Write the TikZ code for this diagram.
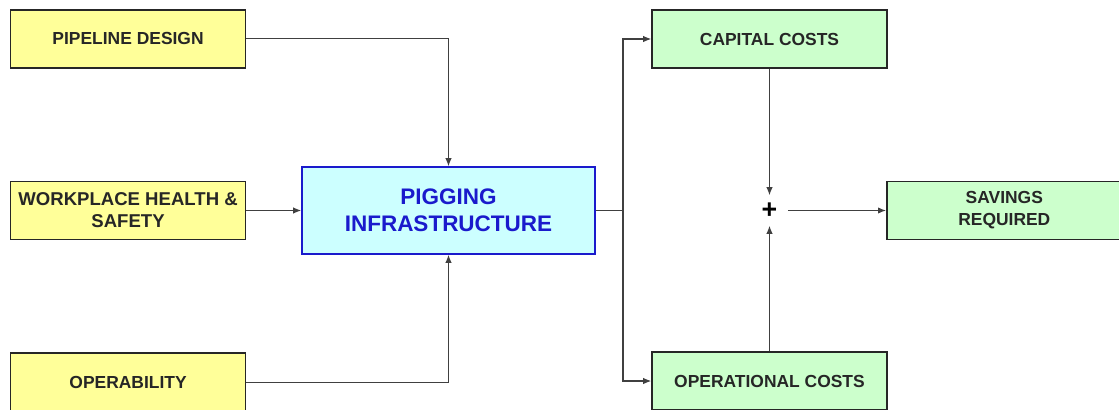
\documentclass[tikz,border=0pt]{standalone}
\usepackage{fontspec}
\setmainfont{Liberation Sans}
\usepackage{xcolor}
\usetikzlibrary{arrows.meta, positioning}
\definecolor{boxyellow}{HTML}{FFFF99}
\definecolor{boxgreen}{HTML}{CCFFCC}
\definecolor{boxcyan}{HTML}{CCFFFF}
\definecolor{pigblue}{HTML}{1A1ACC}
\definecolor{linegray}{HTML}{404040}

\begin{document}
\begin{tikzpicture}[
  x=0.025cm, y=-0.025cm,
  node distance=2.8cm and 1.37cm,
  inbox/.style={rectangle, draw=black!85, line width=1.1pt, fill=boxyellow,
    minimum width=5.875cm, minimum height=1.45cm, inner sep=2pt,
    font=\fontsize{12.4}{15.6}\selectfont\bfseries, text=black!85, align=center},
  outbox/.style={inbox, fill=boxgreen},
  hubbox/.style={rectangle, draw=pigblue, line width=1.1pt, fill=boxcyan,
    minimum width=7.325cm, minimum height=2.175cm,
    font=\fontsize{16}{19}\selectfont\bfseries, text=pigblue, align=center},
  arr/.style={-{Latex[length=2mm, width=1.6mm]}, line width=0.8pt, linegray},
  ln/.style={line width=0.8pt, linegray},
]
  \useasboundingbox (0,0) rectangle (1119,409);
  \node[hubbox] (pigging) at (448.5,210.5) {PIGGING\\INFRASTRUCTURE};
  \node[inbox, font=\fontsize{13.2}{15.6}\selectfont\bfseries, left=of pigging]
    (health) {WORKPLACE HEALTH \&\\SAFETY};
  \node[inbox, above=of health] (design) {PIPELINE DESIGN};
  \node[inbox, below=of health] (operability) {OPERABILITY};
  \node[outbox] (capital) at (769.5,39) {CAPITAL COSTS};
  \node[outbox] (operational) at (769.5,381) {OPERATIONAL COSTS};
  \node[font=\fontsize{19}{19}\selectfont\bfseries, minimum width=0.9cm,
    minimum height=0.75cm, inner sep=0pt] (plus) at (769.5,210.5) {+};
  \node[outbox, anchor=west] (savings) at (886,210.5) {SAVINGS\\REQUIRED};
  \coordinate (split) at (623,210.5);
  % inputs to the hub
  \draw[arr] (design.east) -| (pigging.north);
  \draw[arr] (health) -- (pigging);
  \draw[arr] (operability.east) -| (pigging.south);
  % hub to costs
  \draw[ln] (pigging.east) -- (split);
  \draw[arr] (split) |- (capital.west);
  \draw[arr] (split) |- (operational.west);
  % costs summed
  \draw[arr] (capital.south) -- (plus.north);
  \draw[arr] (operational.north) -- (plus.south);
  \draw[arr] (plus) -- (savings);
\end{tikzpicture}
\end{document}
